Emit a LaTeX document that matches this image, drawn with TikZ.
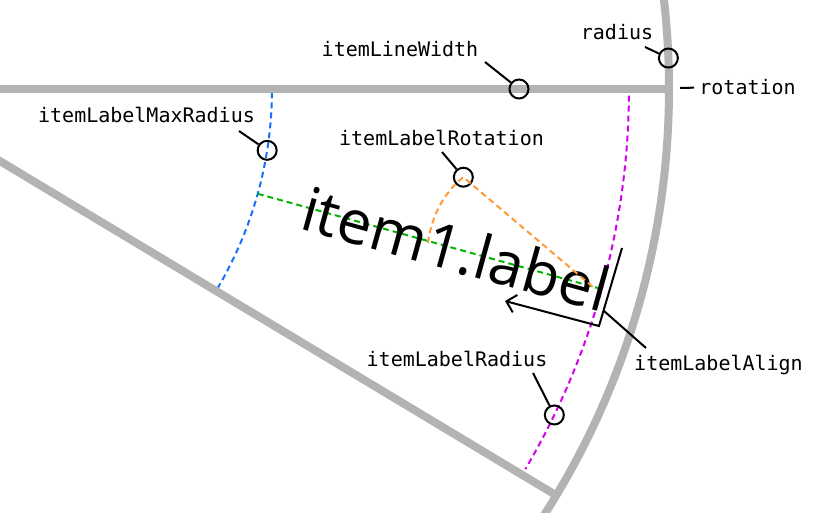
\documentclass[tikz,border=0pt]{standalone}
\usepackage{fontspec}
\setmonofont{DejaVu Sans Mono}
\newfontfamily\itemfont{Open Sans}
\usepackage{xcolor}
\definecolor{colWheel}{RGB}{179,179,179}
\definecolor{colMaxRad}{RGB}{26,110,255}
\definecolor{colLblRad}{RGB}{210,0,235}
\definecolor{colAxis}{RGB}{0,180,0}
\definecolor{colRot}{RGB}{255,153,51}
\usetikzlibrary{arrows.meta}

\begin{document}
\begin{tikzpicture}[x=0.5pt, y=-0.5pt, >={Straight Barb[length=4.5pt,width=9pt]},
		every node/.style={font=\ttfamily\fontsize{10}{12}\selectfont, inner sep=0pt},
		wheel/.style={line width=4pt, colWheel},
		guide/.style={line width=1pt, dash pattern=on 3pt off 2pt},
		marker/.style={draw, circle, line width=1pt, minimum size=9.5pt},
		leader/.style={line width=1pt}]
	\useasboundingbox (0,0) rectangle (818,513);
	\clip (0,0) rectangle (818,513);
	% slice of the wheel, centre off the left edge
	\begin{scope}[shift={(-120,89)}]
		\draw[guide, colMaxRad] (0.5:392) arc[start angle=0.5, end angle=30.5, radius=392];
		\draw[guide, colLblRad] (0.5:749) arc[start angle=0.5, end angle=30.5, radius=749];
		\draw[guide, colAxis] (15.5:392) -- (15.5:749);
		\draw[wheel] (0,0) -- (0:789);
		\draw[wheel] (0,0) -- (31:789);
		\draw[wheel] (-9:789) arc[start angle=-9, end angle=35, radius=789];
		\node[font=\itemfont\fontsize{30.5}{36}\selectfont, anchor=east, rotate=-15.5]
			(lItem) at (15.5:756) {item1.label};
		\node[marker] (mLineWidth) at (0:639) {};
		\node[marker] (mRadius) at (-2.25:789) {};
		\node[marker] (mMaxRadius) at (9:392) {};
		\node[marker] (mRotation) at (8.6:590) {};
		\node[marker] (mLabelRadius) at (25.8:749) {};
	\end{scope}
	% rotation of the label
	\coordinate (rotA) at (428,243);
	\coordinate (rotB) at (593,287);
	\draw[guide, colRot] (rotA) .. controls (432,212) and (447,190) .. (mRotation.center) -- (rotB);
	% align bracket
	\coordinate (alTop) at (622,248);
	\coordinate (alCorner) at (599,326);
	\coordinate (alTip) at (505,301);
	\draw[leader, ->] (alTop) -- (alCorner) -- (alTip);
	% texts
	\node[anchor=base] (lLineWidth) at (400,57) {itemLineWidth};
	\node[anchor=base] (lRadius) at (617,40) {radius};
	\node[anchor=base west] (lRotation) at (699,95) {rotation};
	\node[anchor=base] (lMaxRadius) at (146.5,123) {itemLabelMaxRadius};
	\node[anchor=base] (lLabelRotation) at (441.5,146) {itemLabelRotation};
	\node[anchor=base] (lLabelRadius) at (457,366) {itemLabelRadius};
	\node[anchor=base] (lLabelAlign) at (718.5,370) {itemLabelAlign};
	% leaders
	\coordinate (tLineWidth) at (485,62);
	\coordinate (tRadius) at (645,47);
	\coordinate (tMaxRadius) at (239,131);
	\coordinate (tRotation) at (442,152);
	\coordinate (tLabelRadius) at (533,373);
	\coordinate (tAlign) at (604,311);
	\coordinate (tAlignEnd) at (646,348);
	\coordinate (tRotTick) at (680,88);
	\foreach \a/\b in {tLineWidth/mLineWidth, tRadius/mRadius, tMaxRadius/mMaxRadius,
			tRotation/mRotation, tLabelRadius/mLabelRadius, tAlign/tAlignEnd}
		\draw[leader] (\a) -- (\b);
	\draw[leader, shorten >=2.5pt] (tRotTick) -- (lRotation.west);
\end{tikzpicture}
\end{document}
